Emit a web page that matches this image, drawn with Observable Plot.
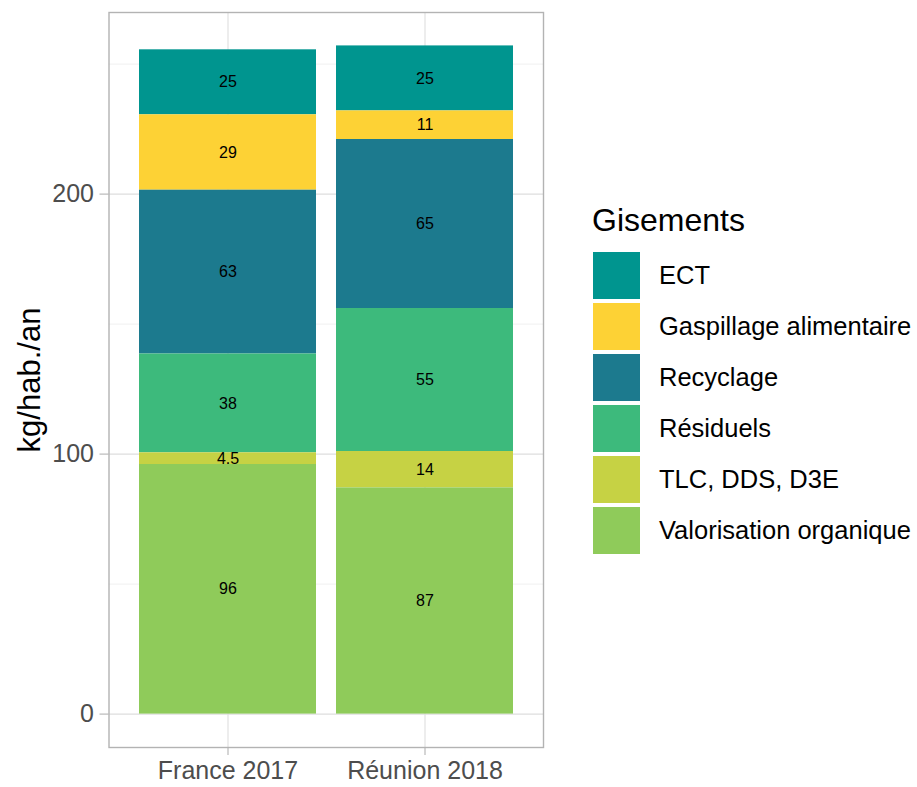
<!DOCTYPE html>
<html><head><meta charset="utf-8">
<script src="https://cdn.jsdelivr.net/npm/d3@7"></script>
<script src="https://cdn.jsdelivr.net/npm/@observablehq/plot@0.6"></script>
<style>
body{margin:0;background:#fff;font-family:"Liberation Sans",Arial,sans-serif;}
#wrap{position:relative;width:917px;height:787px;overflow:hidden;}
#legend{position:absolute;left:592px;top:203px;color:#000;}
#legend .title{font-size:32px;line-height:34px;height:34px;margin-bottom:13px;white-space:nowrap;}
#legend .row{display:flex;align-items:center;height:51px;white-space:nowrap;}
#legend .key{width:47px;height:47px;margin-right:19px;margin-left:1px;}
#legend .lab{font-size:25.5px;}
</style></head><body>
<div id="wrap"><div id="chart"></div><div id="legend"></div></div>
<script>
const categories = ["France 2017", "Réunion 2018"];
const gisements = ["ECT", "Gaspillage alimentaire", "Recyclage", "Résiduels", "TLC, DDS, D3E", "Valorisation organique"];
const colors = ["#00958F", "#FDD235", "#1C7A8E", "#3DBA7C", "#C6D244", "#8FCB5A"];
const france2017 = [25, 29, 63, 38, 4.5, 96];
const reunion2018 = [25, 11, 65, 55, 14, 87];
const yTicks = [0, 100, 200];
const yMinor = [50, 150, 250];
const yLabel = "kg/hab./an";
const legendTitle = "Gisements";

const series = [france2017, reunion2018];
const rows = [];
categories.forEach((c, i) => gisements.forEach((g, j) => rows.push({cat: c, g, v: series[i][j]})));
const stackOrder = gisements.slice().reverse();
const base = {x: "cat", y: "v", z: "g", order: stackOrder};

const total = d3.max(categories.map((c, i) => d3.sum(series[i])));
const pad = total * 0.05;

const chart = Plot.plot({
  width: 917, height: 787,
  marginLeft: 108.5, marginRight: 374, marginTop: 12, marginBottom: 40,
  style: {fontFamily: "'Liberation Sans', Arial, sans-serif", background: "white"},
  x: {domain: categories, paddingInner: 0.1, paddingOuter: 0.15, axis: null},
  y: {domain: [-pad, total + pad], axis: null},
  color: {domain: gisements, range: colors},
  marks: [
    Plot.gridY(yMinor, {stroke: "#E6E6E6", strokeOpacity: 1, strokeWidth: 0.6}),
    Plot.gridY(yTicks, {stroke: "#DEDEDE", strokeOpacity: 1, strokeWidth: 1.1}),
    Plot.gridX(categories, {stroke: "#DEDEDE", strokeOpacity: 1, strokeWidth: 1.1}),
    Plot.barY(rows, Plot.stackY({...base, fill: "g"})),
    Plot.text(rows, Plot.stackY({...base, text: d => String(d.v), fill: "black", fontSize: 16})),
    Plot.frame({stroke: "#B3B3B3", strokeWidth: 1.4}),
    Plot.axisY(yTicks, {tickSize: 9, tickPadding: 6, stroke: "#B3B3B3", fill: "#4D4D4D", fontSize: 25, label: null, strokeWidth: 1.1}),
    Plot.axisX(categories, {tickSize: 8, tickPadding: 6, stroke: "#B3B3B3", fill: "#4D4D4D", fontSize: 25, label: null, strokeWidth: 1.1}),
    Plot.text([yLabel], {frameAnchor: "left", textAnchor: "middle", dx: -79, rotate: -90, fontSize: 31, fill: "black", text: d => d})
  ]
});
document.getElementById("chart").appendChild(chart);

const leg = document.getElementById("legend");
const t = document.createElement("div"); t.className = "title"; t.textContent = legendTitle; leg.appendChild(t);
gisements.forEach((g, i) => {
  const r = document.createElement("div"); r.className = "row";
  const k = document.createElement("div"); k.className = "key"; k.style.background = colors[i];
  const l = document.createElement("div"); l.className = "lab"; l.textContent = g;
  r.appendChild(k); r.appendChild(l); leg.appendChild(r);
});
</script>
</body></html>
